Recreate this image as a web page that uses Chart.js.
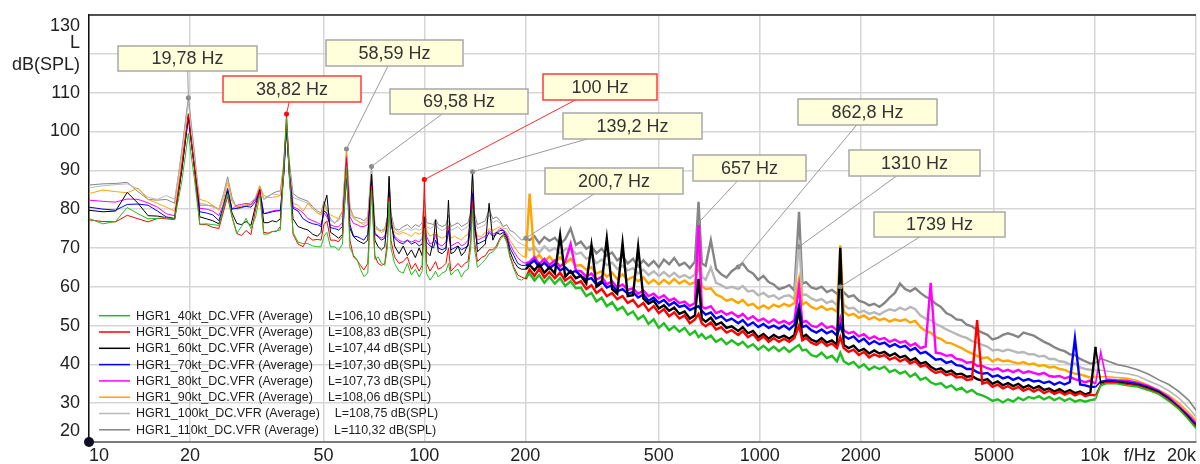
<!DOCTYPE html>
<html><head><meta charset="utf-8">
<script src="https://cdn.jsdelivr.net/npm/chart.js@4.4.1/dist/chart.umd.min.js"></script>
<style>html,body{margin:0;padding:0;background:#fff;overflow:hidden}canvas{display:block}</style>
</head><body>
<canvas id="c" width="1200" height="464"></canvas>
<script>
// ---------- DATA ----------
const freqs = [
10, 11, 12, 13, 14, 15, 16, 17, 18, 18.9,
19.78, 20.6, 21.4, 22.4, 23.4, 24.4, 25.2, 25.9, 26.7, 27.6,
28.5, 29.4, 30.4, 31.4, 32.3, 33.2, 34.2, 35.2, 36.2, 37.2,
38.1, 38.82, 39.6, 40.6, 42, 43.5, 45, 46.5, 48, 49.2,
50.2, 51.2, 52.5, 54, 55.5, 57, 58.59, 60, 61.5, 63,
64.5, 66, 67.8, 69.58, 71.2, 72.8, 74.5, 76.2, 77.6, 78.5,
79.5, 81.5, 84, 86.5, 89, 91.5, 94, 96.5, 98.5, 100,
101.5, 104, 106.5, 108, 110, 113, 116, 118, 120, 123,
126, 129, 132, 135, 137.5, 139.2, 141, 144, 148, 152,
156, 160, 164, 168, 172, 176, 180, 185, 190, 195,
200.7,
206, 213, 220, 228, 236, 245, 254, 263, 273, 283,
293, 304, 315, 326, 338, 350, 363, 376, 390, 404,
419, 434, 450, 466, 483, 500, 518, 537, 556, 576,
597, 619, 641, 657, 672, 690, 715, 741, 768, 796,
825, 862.8, 890, 922, 955, 990, 1026, 1063, 1101, 1141,
1182, 1225, 1269, 1310, 1340, 1375, 1425, 1476, 1530, 1585,
1642, 1700, 1739, 1780, 1840, 1905, 1975, 2045, 2120, 2195,
2275, 2355, 2440, 2530, 2620, 2715, 2810, 2910, 3015, 3125,
3235, 3350, 3470, 3600, 3730, 3860, 4000, 4145, 4295, 4450,
4610, 4775, 4945, 5125, 5310, 5500, 5700, 5905, 6115, 6335,
6565, 6800, 7045, 7300, 7560, 7835, 8115, 8410, 8710, 9025,
9350, 9685, 10035, 10400, 10800, 11600, 12500, 13400, 14400, 15500,
16600, 17800, 19000, 20000
];

const spl40 = [
77.6, 76.2, 76.8, 80.4, 78.8, 77.5, 77.6, 77.8, 77.3, 87,
99.5, 88, 76.1, 76.2, 76.0, 75.8, 80.5, 84.0, 78, 73.8,
75.5, 77.6, 75.0, 78, 83.6, 73.5, 73.6, 74.2, 74.4, 74.6,
90, 103.5, 88, 74.0, 71.5, 71.1, 71.1, 70.5, 70.3, 70.3,
73, 74, 70.3, 70.3, 69.4, 71.0, 91.0, 70.0, 68.1, 67.0,
64.5, 62.6, 63.5, 85.0, 67.0, 67.7, 66.0, 65.5, 70, 82.0,
70, 66.0, 64.0, 63.5, 66.0, 63.0, 64.5, 62.5, 64.0, 75.0,
63.5, 61.7, 63.0, 64.0, 62.5, 63.5, 64.0, 66.0, 63.0, 64.0,
64.5, 62.5, 64.0, 64.5, 70.0, 80.0, 70.0, 65.0, 66.0, 67.0,
68.5, 69.0, 70.0, 72.0, 73.2, 71.5, 67.5, 64.5, 62.0, 61.7,
62.5,
63.4, 61.6, 63.0, 61.0, 62.6, 60.8, 62.2, 60.2, 61.4, 59.6,
59.8, 57.6, 58.4, 56.2, 57.2, 55.0, 56.0, 54.0, 54.8, 52.8,
53.6, 51.6, 52.6, 50.4, 51.6, 49.4, 50.6, 48.8, 49.8, 48.4,
49.4, 47.6, 48.6, 47.0, 47.8, 46.6, 47.4, 45.8, 46.6, 45.2,
46.2, 45.0, 45.8, 44.4, 45.2, 43.8, 44.8, 43.6, 44.6, 43.4,
44.4, 43.2, 44.2, 45.0, 43.6, 43.8, 42.4, 42.0, 43.0, 41.6,
42.2, 40.8, 43.0, 40.8, 40.0, 40.6, 39.2, 40.0, 38.6, 39.4,
38.8, 39.4, 38.0, 38.6, 37.6, 38.2, 36.8, 37.6, 36.0, 36.6,
35.4, 34.8, 35.2, 34.0, 34.6, 33.4, 34.0, 32.8, 33.4, 32.4,
32.0, 31.4, 30.6, 31.0, 30.2, 31.0, 30.4, 31.4, 30.8, 31.6,
31.2, 31.8, 31.0, 31.6, 30.8, 31.4, 30.6, 31.2, 30.4, 30.8,
30.4, 30.8, 31.0, 34.5, 35.0, 35.0, 34.5, 34.2, 33.3, 32.3,
30.5, 28.4, 25.8, 23.5
];

const spl50 = [
77.2, 76.8, 76.7, 78.4, 77.5, 76.7, 77.6, 77.5, 77.3, 91,
104.5, 91, 76.0, 76.0, 75.3, 75.0, 79.5, 83.2, 78, 73.7,
73.2, 74.5, 73.4, 80, 84.5, 74.0, 73.8, 74.2, 74.2, 75.5,
92, 104.5, 89, 73.5, 71.0, 70.3, 72.9, 72.0, 72.2, 72.0,
76, 77, 72.0, 72.0, 71.6, 73.0, 93.0, 72.0, 67.7, 66.8,
65.5, 64.3, 66.0, 86.0, 68.0, 66.0, 65.5, 66.0, 72, 83.0,
72, 67.7, 66.0, 66.5, 67.7, 64.5, 66.0, 64.0, 65.5, 87.6,
66.0, 64.0, 65.5, 66.5, 64.5, 65.0, 66.0, 70.0, 64.0, 65.0,
66.0, 65.0, 66.0, 66.5, 72.0, 82.0, 72.0, 66.5, 67.5, 68.0,
69.5, 69.5, 70.5, 72.5, 73.5, 72.0, 68.0, 65.0, 63.0, 62.5,
62.0,
64.4, 62.8, 64.6, 62.4, 63.8, 62.2, 63.6, 61.6, 62.6, 60.8,
61.4, 59.4, 60.4, 58.4, 59.4, 57.6, 58.4, 56.8, 57.6, 55.8,
56.6, 54.8, 55.8, 53.8, 55.0, 53.2, 54.2, 52.4, 53.4, 51.8,
52.6, 50.6, 51.6, 53.0, 50.6, 49.8, 50.8, 49.0, 49.6, 48.2,
48.8, 47.6, 48.6, 47.0, 47.8, 46.2, 47.2, 45.8, 46.8, 45.8,
46.6, 45.8, 46.8, 50.0, 46.2, 46.8, 45.6, 45.0, 46.0, 44.8,
45.4, 44.2, 47.0, 44.2, 43.2, 43.8, 42.4, 43.2, 41.8, 42.6,
42.0, 42.4, 41.2, 41.8, 40.8, 41.4, 40.2, 40.8, 39.4, 39.8,
38.6, 37.8, 38.2, 37.2, 37.6, 36.6, 36.8, 36.0, 36.2, 51.4,
35.0, 35.4, 34.2, 34.8, 33.8, 34.4, 33.6, 34.2, 33.2, 33.8,
33.0, 33.6, 32.6, 33.2, 32.4, 33.0, 32.2, 32.8, 32.0, 32.6,
31.8, 32.2, 32.0, 34.8, 35.3, 35.2, 34.8, 34.5, 33.6, 32.5,
30.8, 28.6, 26.0, 23.8
];

const spl60 = [
79.7, 79.3, 79.5, 84.3, 81.5, 78.3, 78.2, 77.8, 77.3, 90,
104.0, 91, 78.0, 77.5, 77.0, 76.2, 80.5, 84.5, 79, 76.3,
76.0, 76.8, 75.8, 81, 85.0, 76.5, 76.5, 77.0, 76.7, 77.5,
90, 102, 88, 77.5, 75.5, 75.0, 74.6, 73.5, 73.0, 74.0,
81, 83.6, 74.0, 73.3, 72.5, 73.5, 88.0, 75.0, 72.9, 72.0,
71.5, 71.1, 72.0, 89.0, 72.0, 70.3, 69.5, 70.3, 78, 88.5,
78, 70.5, 68.5, 70.5, 68.0, 69.5, 67.5, 70.0, 68.0, 78.0,
69.0, 68.0, 72.0, 77.2, 69.0, 68.5, 69.5, 82.3, 68.5, 69.0,
70.5, 68.0, 69.0, 71.0, 80.0, 89.5, 78.0, 69.0, 70.0, 71.0,
81.5, 72.0, 74.0, 73.5, 74.0, 72.5, 69.0, 66.5, 65.0, 64.5,
64.5,
65.6, 64.2, 65.8, 63.6, 65.0, 63.4, 73.3, 62.6, 64.0, 62.2,
62.8, 60.8, 70.7, 60.0, 61.0, 72.4, 59.4, 58.2, 71.2, 57.6,
57.8, 70.3, 57.0, 55.6, 56.4, 54.4, 55.2, 53.8, 54.6, 53.0,
53.6, 51.8, 52.6, 62.0, 51.8, 51.0, 52.0, 50.2, 50.8, 49.4,
49.8, 48.6, 49.6, 48.0, 48.6, 47.0, 47.8, 46.6, 47.6, 46.8,
47.4, 46.6, 47.6, 54.0, 47.0, 47.6, 46.4, 45.8, 46.8, 45.6,
46.2, 45.0, 70.0, 45.0, 44.2, 44.8, 43.4, 44.0, 42.8, 43.6,
42.8, 43.2, 42.2, 42.8, 41.8, 42.2, 41.0, 41.6, 40.2, 40.6,
39.4, 38.6, 39.0, 38.0, 38.4, 37.4, 37.6, 36.8, 37.0, 36.2,
35.8, 36.2, 35.0, 35.6, 34.6, 35.2, 34.4, 35.0, 34.0, 34.6,
33.8, 34.4, 33.4, 33.8, 33.0, 33.6, 32.8, 33.4, 32.6, 33.0,
32.2, 32.8, 44.5, 35.2, 35.6, 35.4, 35.1, 34.7, 33.9, 32.8,
31.0, 28.8, 26.3, 24.0
];

const spl70 = [
80.5, 80.0, 79.7, 81.2, 81.3, 81.0, 79.5, 78.0, 77.6, 90,
103.5, 91, 79.3, 79.0, 78.5, 77.0, 81, 85.3, 80, 80.2,
80.5, 80.7, 80.5, 82, 84.5, 78.8, 79.0, 79.3, 79.5, 79.6,
89, 101, 89, 80.2, 79.5, 77.5, 76.7, 76.2, 76.0, 75.5,
79.5, 79, 75.2, 75.0, 74.6, 75.5, 92.0, 76.0, 73.0, 72.9,
72.5, 72.0, 73.5, 87.5, 73.5, 72.9, 72.0, 72.5, 76, 84.5,
76, 72.5, 71.5, 71.0, 72.0, 71.0, 71.5, 70.5, 71.0, 77.0,
71.5, 70.5, 70.0, 72.0, 70.0, 69.5, 70.0, 74.5, 69.5, 70.0,
70.5, 69.5, 70.0, 70.5, 75.5, 84.0, 75.0, 71.0, 71.5, 72.0,
74.0, 73.0, 73.5, 74.5, 74.5, 73.0, 70.0, 68.0, 66.0, 65.5,
65.5,
65.8, 66.8, 65.0, 66.2, 64.8, 65.8, 64.2, 65.0, 63.6, 64.0,
62.8, 61.8, 62.2, 60.6, 61.4, 59.8, 60.4, 58.8, 59.4, 58.2,
58.6, 57.2, 58.0, 56.4, 57.2, 55.8, 56.6, 55.2, 56.0, 54.8,
55.2, 54.0, 54.6, 55.0, 53.8, 52.8, 53.4, 51.8, 52.4, 51.2,
51.8, 50.6, 51.4, 50.0, 50.8, 49.6, 50.4, 49.4, 50.0, 49.2,
50.0, 49.0, 50.2, 55.0, 49.6, 50.0, 48.8, 48.2, 49.0, 48.0,
48.6, 47.4, 50.0, 47.4, 46.6, 47.2, 45.8, 46.6, 45.2, 46.0,
45.2, 45.6, 44.6, 45.2, 44.4, 44.8, 43.6, 44.2, 42.8, 43.2,
42.2, 41.2, 41.4, 40.4, 40.8, 39.8, 39.6, 38.8, 38.8, 38.0,
37.6, 37.8, 36.8, 37.2, 36.4, 36.8, 36.0, 36.6, 35.8, 36.2,
35.6, 35.8, 35.2, 35.6, 34.8, 35.4, 34.8, 35.4, 46.7, 34.8,
34.6, 34.2, 34.2, 35.6, 35.9, 35.7, 35.5, 35.0, 34.2, 33.0,
31.3, 29.0, 26.6, 24.5
];

const spl80 = [
82.3, 82.0, 81.8, 82.6, 82.5, 81.6, 80.5, 78.8, 78.3, 90,
103.8, 91, 80.2, 80.0, 79.5, 78.3, 81.5, 84.9, 80, 81.0,
81.2, 81.5, 81.2, 82.5, 85.2, 78.8, 79.2, 79.5, 79.7, 79.7,
89, 100.5, 89, 80.6, 80.0, 79.0, 77.5, 77.0, 76.5, 76.0,
79, 78, 76.0, 75.5, 75.4, 76.5, 93.5, 78.0, 76.3, 76.0,
75.5, 75.5, 76.0, 88.0, 74.0, 73.0, 72.5, 73.0, 76, 85.0,
76, 73.0, 72.0, 71.5, 72.0, 71.5, 72.0, 71.5, 72.5, 78.0,
73.0, 71.0, 71.5, 73.5, 71.0, 70.5, 71.5, 75.5, 70.5, 71.0,
71.5, 70.5, 71.0, 72.0, 76.0, 84.5, 75.5, 72.0, 72.5, 73.0,
74.5, 73.5, 74.0, 75.0, 74.6, 73.5, 71.0, 69.0, 67.5, 66.5,
66.0,
66.4, 67.6, 65.8, 67.2, 65.6, 66.8, 65.2, 66.4, 71.0, 64.2,
64.0, 62.6, 63.4, 61.8, 62.6, 60.6, 61.4, 59.8, 60.6, 59.2,
59.6, 58.2, 59.0, 57.6, 58.2, 57.0, 57.8, 56.4, 57.0, 55.8,
56.2, 55.0, 55.8, 76.4, 54.8, 54.4, 55.0, 53.2, 53.8, 52.8,
53.4, 52.2, 53.0, 51.6, 52.4, 51.2, 51.8, 50.8, 51.6, 50.6,
51.2, 50.4, 51.4, 60.0, 50.8, 51.2, 50.0, 49.6, 50.6, 49.4,
49.8, 48.8, 52.0, 48.8, 48.0, 48.4, 47.2, 47.8, 46.6, 47.2,
46.4, 46.8, 45.8, 46.4, 45.6, 46.0, 44.8, 45.4, 44.2, 44.6,
61.0, 43.0, 42.8, 42.2, 42.4, 41.4, 41.2, 40.4, 40.6, 39.6,
39.6, 39.0, 38.6, 39.0, 38.2, 38.6, 38.0, 38.6, 37.8, 38.2,
37.8, 37.4, 37.8, 37.0, 36.8, 37.0, 36.4, 36.8, 36.2, 35.8,
35.4, 35.8, 35.0, 43.2, 36.2, 36.0, 35.9, 35.3, 34.5, 33.3,
31.6, 29.3, 27.0, 25.0
];

const spl90 = [
84.0, 84.9, 84.5, 84.2, 85.4, 82.5, 81.5, 80.5, 79.5, 92,
104.7, 92, 82.5, 82.0, 81.0, 79.7, 82.5, 87.0, 82, 80.6,
80.8, 81.2, 81.0, 82.5, 86.0, 83.5, 83.0, 83.0, 83.2, 83.5,
91, 101.5, 90, 81.5, 81.0, 79.5, 81.5, 80.0, 79.0, 78.5,
81, 79.5, 78.5, 78.0, 77.5, 79.5, 95.0, 80.0, 78.0, 77.0,
76.5, 76.0, 77.0, 89.0, 75.0, 74.6, 74.0, 74.5, 77, 85.0,
77, 74.0, 73.5, 74.0, 73.5, 73.0, 74.0, 73.5, 74.0, 79.0,
74.5, 73.0, 73.5, 74.0, 73.0, 72.5, 73.0, 76.0, 72.5, 73.0,
72.5, 72.0, 73.0, 73.5, 77.0, 85.0, 76.0, 73.0, 73.0, 74.0,
75.0, 74.5, 75.0, 75.5, 74.6, 74.0, 72.0, 70.5, 69.0, 68.0,
67.5,
84.0, 67.0, 68.2, 66.4, 67.8, 66.2, 67.6, 66.0, 67.2, 65.4,
65.6, 64.4, 65.0, 63.4, 64.0, 62.6, 63.6, 62.0, 63.2, 61.8,
62.6, 61.4, 62.4, 60.8, 61.8, 60.6, 61.8, 60.8, 62.0, 60.8,
61.6, 60.6, 61.2, 66.0, 60.2, 59.4, 59.6, 58.0, 57.4, 56.4,
56.8, 55.8, 56.6, 55.2, 55.6, 54.4, 55.2, 54.4, 55.4, 54.8,
55.6, 55.0, 55.8, 62.0, 55.4, 56.0, 54.8, 54.2, 55.0, 54.0,
54.4, 53.6, 70.7, 53.6, 52.6, 53.0, 52.0, 52.6, 51.6, 52.2,
51.4, 51.8, 51.0, 51.6, 51.2, 51.6, 50.8, 51.2, 49.6, 48.6,
48.2, 47.0, 46.6, 45.6, 45.4, 44.8, 44.2, 43.4, 42.8, 42.2,
41.6, 41.8, 40.8, 41.4, 40.8, 41.0, 40.6, 40.2, 40.6, 40.0,
40.2, 39.6, 39.8, 39.2, 39.4, 38.8, 38.6, 38.0, 37.6, 37.4,
37.0, 36.6, 36.8, 36.8, 36.8, 36.6, 36.4, 35.8, 34.7, 33.4,
32.0, 30.0, 27.6, 25.6
];

const spl100 = [
85.5, 86.0, 86.3, 86.5, 85.2, 83.0, 82.5, 83.5, 82.5, 94,
107.7, 94, 81.5, 81.2, 80.5, 80.0, 83.5, 87.8, 82, 80.4,
80.6, 81.0, 81.8, 83, 85.8, 82.6, 83.5, 83.8, 83.8, 83.5,
91, 100.5, 90, 83.0, 82.5, 82.0, 81.5, 80.0, 79.0, 78.5,
80, 78.5, 77.0, 76.5, 77.0, 78.5, 94.0, 79.0, 77.5, 77.0,
76.5, 76.5, 77.5, 90.0, 76.0, 75.0, 74.5, 74.5, 77, 86.0,
78, 74.8, 74.0, 74.5, 75.0, 74.5, 75.0, 74.5, 75.0, 80.0,
75.5, 75.0, 75.5, 76.5, 75.0, 74.5, 75.0, 77.0, 74.5, 75.0,
75.5, 74.5, 75.0, 75.5, 78.0, 87.0, 77.5, 75.0, 75.5, 76.0,
78.5, 76.5, 77.0, 76.5, 75.0, 75.0, 73.5, 72.5, 71.5, 71.0,
70.5,
69.4, 70.2, 68.8, 70.4, 69.2, 70.0, 68.6, 69.6, 70.0, 68.4,
68.8, 67.2, 67.8, 66.0, 67.0, 65.6, 66.2, 64.6, 65.4, 64.2,
64.8, 63.4, 64.4, 63.0, 64.0, 62.8, 63.8, 62.6, 63.6, 62.4,
63.0, 62.2, 63.2, 70.0, 62.6, 61.8, 65.0, 61.0, 60.4, 59.6,
60.0, 59.4, 60.2, 58.8, 59.0, 57.8, 58.4, 57.4, 57.8, 56.8,
57.6, 57.8, 56.8, 72.0, 57.8, 58.0, 57.0, 56.4, 56.8, 55.8,
56.4, 55.2, 58.0, 55.4, 54.4, 54.6, 53.4, 53.8, 53.0, 53.4,
52.8, 53.6, 54.2, 53.8, 54.6, 54.0, 54.8, 54.2, 52.6, 51.8,
51.4, 50.4, 49.8, 49.0, 48.4, 47.8, 47.2, 46.8, 46.0, 45.6,
45.0, 44.6, 43.6, 43.8, 43.4, 43.8, 43.4, 43.0, 43.2, 42.6,
42.6, 42.0, 42.2, 41.4, 41.4, 40.8, 40.6, 40.0, 40.2, 39.2,
38.8, 38.6, 38.5, 38.5, 38.3, 37.9, 37.6, 37.0, 35.8, 34.6,
33.2, 31.3, 28.8, 26.5
];

const spl110 = [
86.2, 86.5, 86.6, 86.9, 84.5, 82.5, 82.3, 82.5, 81.5, 95,
108.7, 95, 81.0, 81.0, 80.8, 80.0, 84, 88.3, 83, 80.0,
80.3, 80.8, 81.2, 83, 86.0, 82.5, 83.2, 84.0, 84.5, 84.7,
92, 102, 92, 84.0, 83.0, 82.5, 82.0, 80.5, 79.5, 79.0,
82, 80, 77.5, 76.3, 77.5, 79.5, 95.5, 80.5, 78.0, 77.8,
77.5, 77.0, 78.0, 91.0, 76.0, 74.6, 74.5, 75.0, 78, 88.0,
79, 75.0, 74.6, 75.5, 76.0, 75.0, 76.0, 75.5, 76.5, 82.5,
76.5, 76.3, 76.0, 77.5, 76.0, 75.5, 76.0, 78.5, 75.5, 76.0,
76.5, 75.5, 76.0, 76.5, 79.0, 89.6, 79, 76.0, 76.5, 77.0,
80.0, 77.5, 78.0, 77.0, 75.5, 76.0, 74.5, 74.0, 73.0, 72.0,
72.5,
72.0, 73.0, 71.2, 72.8, 71.8, 72.6, 71.0, 72.2, 75.0, 70.8,
71.6, 69.8, 70.5, 68.6, 69.8, 68.0, 68.8, 66.8, 67.8, 66.0,
67.2, 65.2, 66.8, 65.4, 66.6, 65.0, 67.0, 65.8, 67.4, 65.5,
66.2, 64.8, 66.4, 81.9, 66.0, 65.4, 72.0, 64.6, 63.2, 62.4,
64.0, 65.2, 66.0, 64.2, 63.4, 61.8, 62.8, 61.2, 60.6, 59.4,
59.8, 60.4, 59.0, 79.3, 60.8, 61.2, 59.8, 59.4, 60.0, 58.6,
59.2, 58.2, 59.6, 58.6, 57.4, 57.8, 56.4, 56.0, 55.2, 55.6,
54.8, 55.8, 57.2, 58.4, 60.8, 59.4, 58.8, 59.6, 58.4, 57.4,
56.8, 55.6, 54.8, 53.2, 52.6, 51.6, 51.4, 50.2, 49.8, 48.8,
48.2, 47.6, 46.4, 46.8, 47.6, 48.0, 47.6, 47.0, 48.2, 47.8,
47.4, 46.6, 45.8, 45.2, 44.4, 43.8, 43.4, 42.6, 42.4, 41.4,
40.8, 40.2, 40.4, 41.5, 41.0, 40.0, 39.4, 38.6, 37.5, 36.0,
34.8, 33.0, 30.8, 28.2
];

const seriesNames = [
  'HGR1_40kt_DC.VFR (Average)', 'HGR1_50kt_DC.VFR (Average)', 'HGR1_60kt_DC.VFR (Average)',
  'HGR1_70kt_DC.VFR (Average)', 'HGR1_80kt_DC.VFR (Average)', 'HGR1_90kt_DC.VFR (Average)',
  'HGR1_100kt_DC.VFR (Average)', 'HGR1_110kt_DC.VFR (Average)'
];
const seriesLevels = [
  'L=106,10 dB(SPL)', 'L=108,83 dB(SPL)', 'L=107,44 dB(SPL)', 'L=107,30 dB(SPL)',
  'L=107,73 dB(SPL)', 'L=108,06 dB(SPL)', 'L=108,75 dB(SPL)', 'L=110,32 dB(SPL)'
];
const seriesValues = [spl40, spl50, spl60, spl70, spl80, spl90, spl100, spl110];
const seriesColors = ['#1fbf1f', '#ff0000', '#000000', '#0000ff', '#ff00ff', '#ffa500', '#b8b8b8', '#858585'];

const markerFreqs  = [19.78, 38.82, 58.59, 69.58, 100, 139.2, 200.7, 657, 862.8, 1310, 1739];
const markerValues = [108.7, 104.5, 95.5, 91.0, 87.6, 89.6, 72.5, 76.5, 65.1, 70.3, 60.0];
const markerLabels = ['19,78 Hz', '38,82 Hz', '58,59 Hz', '69,58 Hz', '100 Hz', '139,2 Hz', '200,7 Hz', '657 Hz', '862,8 Hz', '1310 Hz', '1739 Hz'];
const markerIsRed  = [false, true, false, false, true, false, false, false, false, false, false];

const xTickValues = [10, 20, 50, 100, 200, 500, 1000, 2000, 5000, 10000, 13600, 20000];
const xTickLabels = ['10', '20', '50', '100', '200', '500', '1000', '2000', '5000', '10k', 'f/Hz', '20k'];

// ---------- LAYOUT (pixel positions of callout boxes: left, top, width, height) ----------
const calloutBoxes = [
  [118, 46, 139, 25], [223, 76, 138, 26], [326, 40, 137, 26], [390, 89, 138, 25],
  [543, 74, 114, 26], [563, 113, 139, 26], [545, 168, 138, 26], [693, 155, 113, 26],
  [798, 99, 139, 26], [849, 150, 131, 26], [874, 212, 131, 25]
];

const FONT = '"Liberation Sans", Arial, Helvetica, sans-serif';
Chart.defaults.font.family = FONT;

const decor = {
  id: 'decor',
  afterDatasetsDraw(chart) {
    const ctx = chart.ctx, xs = chart.scales.x, ys = chart.scales.y, a = chart.chartArea;
    ctx.save();
    ctx.strokeStyle = '#222'; ctx.lineWidth = 1.5;
    ctx.beginPath(); ctx.moveTo(a.left, a.top); ctx.lineTo(a.right, a.top); ctx.stroke();
    markerFreqs.forEach((f, i) => {
      const px = xs.getPixelForValue(f), py = ys.getPixelForValue(markerValues[i]);
      const b = calloutBoxes[i];
      ctx.strokeStyle = markerIsRed[i] ? '#ff2a2a' : '#9a9a9a';
      ctx.lineWidth = 1;
      ctx.beginPath(); ctx.moveTo(px, py); ctx.lineTo(b[0] + b[2] / 2, b[1] + b[3] / 2); ctx.stroke();
    });
    ctx.font = '18px ' + FONT;
    ctx.textAlign = 'center'; ctx.textBaseline = 'middle';
    markerLabels.forEach((t, i) => {
      const b = calloutBoxes[i];
      ctx.fillStyle = '#ffffdc';
      ctx.fillRect(b[0], b[1], b[2], b[3]);
      ctx.strokeStyle = markerIsRed[i] ? '#ff3b3b' : '#a8a8a8';
      ctx.lineWidth = 1.5;
      ctx.strokeRect(b[0], b[1], b[2], b[3]);
      ctx.fillStyle = '#333';
      ctx.fillText(t, b[0] + b[2] / 2, b[1] + b[3] / 2 + 1);
    });
    ctx.font = '12.5px ' + FONT;
    ctx.textAlign = 'left'; ctx.textBaseline = 'middle';
    seriesNames.forEach((n, i) => {
      const y = 315.7 + i * 16.3;
      ctx.strokeStyle = seriesColors[i]; ctx.lineWidth = 1.5;
      ctx.beginPath(); ctx.moveTo(99, y); ctx.lineTo(130, y); ctx.stroke();
      ctx.fillStyle = '#1e1e1e';
      ctx.fillText(n, 136, y + 0.5);
      const w = ctx.measureText(n).width;
      ctx.fillText(seriesLevels[i], 136 + w + 15, y + 0.5);
    });
    ctx.fillStyle = '#0d0d26';
    ctx.beginPath(); ctx.arc(a.left, a.bottom, 5, 0, Math.PI * 2); ctx.fill();
    ctx.restore();
  }
};

const bandWidth = (c) => {
  const f = freqs[c.p0DataIndex];
  return (f >= 200 && f < 10000) ? 2.4 : (f >= 10000 ? 1.6 : 1);
};

const datasets = [{
  type: 'scatter',
  label: 'markers',
  data: markerFreqs.map((f, i) => ({ x: f, y: markerValues[i] })),
  pointRadius: 2.5,
  pointBackgroundColor: markerIsRed.map(r => r ? '#ff0000' : '#8a8a8a'),
  pointBorderWidth: 0,
  showLine: false
}];
seriesValues.forEach((vals, k) => {
  datasets.push({
    label: seriesNames[k],
    data: freqs.map((f, i) => ({ x: f, y: vals[i] })),
    borderColor: seriesColors[k],
    borderWidth: 1,
    segment: { borderWidth: bandWidth },
    pointRadius: 0,
    tension: 0,
    fill: false
  });
});

new Chart(document.getElementById('c'), {
  type: 'line',
  data: { datasets },
  options: {
    responsive: false,
    animation: false,
    events: [],
    parsing: false,
    layout: { padding: { top: 15, right: 0, left: 0, bottom: 0 } },
    plugins: { legend: { display: false }, tooltip: { enabled: false } },
    scales: {
      x: {
        type: 'logarithmic', min: 10, max: 20000,
        afterBuildTicks: s => { s.ticks = xTickValues.map(v => ({ value: v })); },
        afterFit: s => { s.height = 22; s.paddingLeft = 0; s.paddingRight = 0; },
        ticks: {
          autoSkip: false, maxRotation: 0, minRotation: 0, align: 'inner', padding: 3,
          font: { size: 18 }, color: '#222',
          callback: (v, i) => xTickLabels[i]
        },
        grid: {
          color: c => (c.tick && c.tick.value === 13600) ? 'rgba(0,0,0,0)' : '#d6d6d6',
          lineWidth: 1.5, drawTicks: false
        },
        border: { color: '#7a7a7a', width: 2 }
      },
      y: {
        min: 20, max: 130,
        afterFit: s => { s.width = 89; s.paddingTop = 0; s.paddingBottom = 0; },
        ticks: {
          stepSize: 10, autoSkip: false, padding: 9, font: { size: 18 }, color: '#222',
          callback: v => v === 120 ? ['L', 'dB(SPL)'] : (v === 130 ? ['', '130'] : (v === 20 ? ['20', ''] : String(v)))
        },
        grid: { color: '#d6d6d6', lineWidth: 1.5, drawTicks: false },
        border: { color: '#111', width: 1.5 }
      }
    }
  },
  plugins: [decor]
});
</script>
</body></html>
